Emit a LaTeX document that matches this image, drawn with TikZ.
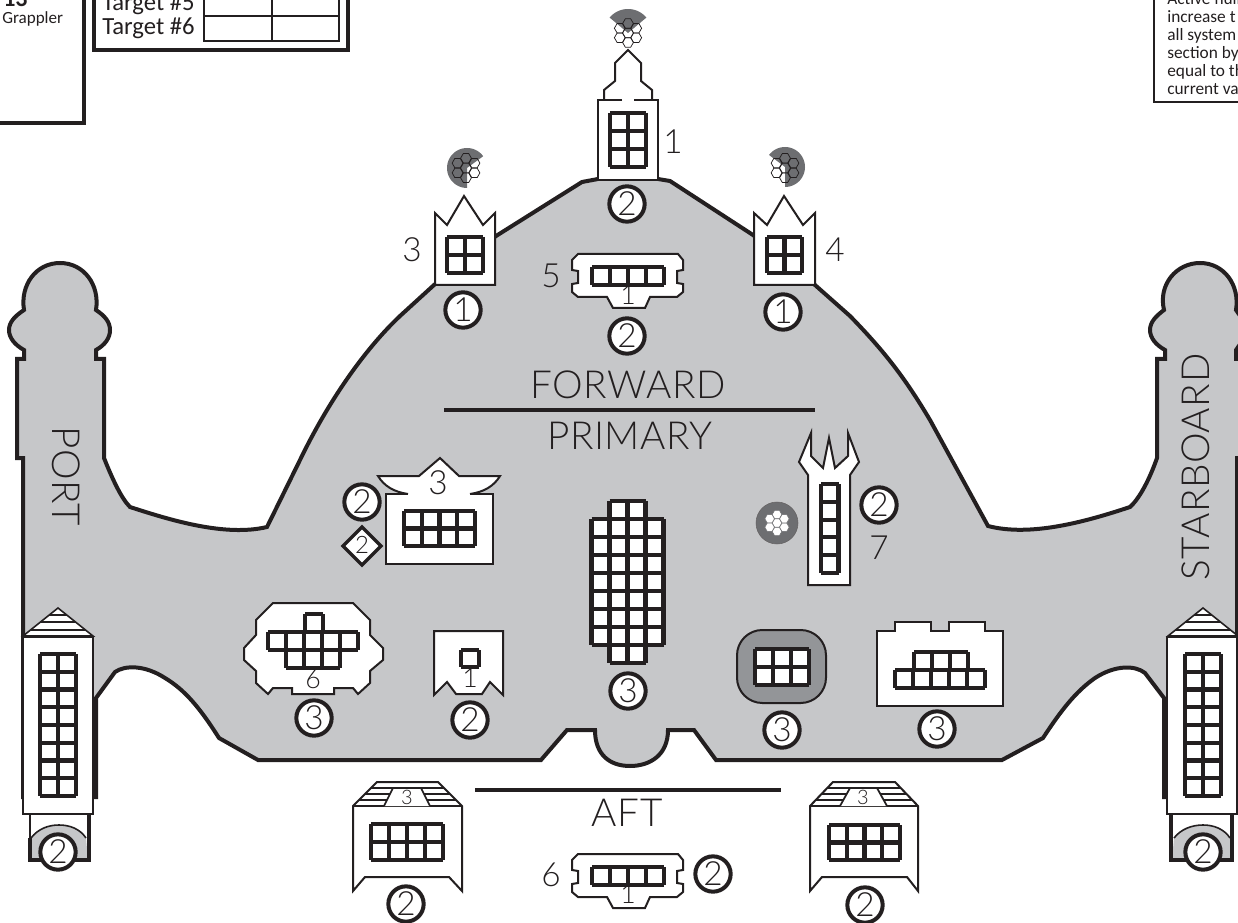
\documentclass[tikz,border=0pt]{standalone}
\usepackage{fontspec}
\setmainfont{Lato Light}
\newfontfamily\smallf{Carlito}
\newfontfamily\wordf[LetterSpace=1.6]{Lato Light}
\definecolor{ink}{HTML}{231F20}
\definecolor{hullgray}{HTML}{C6C7C9}
\definecolor{midgray}{HTML}{939598}
\definecolor{darkgray}{HTML}{6D6E71}
\tikzset{
 hullline/.style={draw=ink,line width=3pt,fill=hullgray,line join=miter},
 box/.style={draw=ink,line width=1.5pt,fill=white,line join=miter},
 gl/.style={draw=ink,line width=3.1pt,line cap=square},
 rule/.style={draw=ink,line width=3pt},
 lab/.style={inner sep=0pt,text=ink,font=\fontsize{25}{25}\selectfont},
 word/.style={inner sep=0pt,text=ink,font=\wordf\fontsize{29}{29}\selectfont},
 smalllab/.style={inner sep=0pt,text=ink,font=\fontsize{14}{14}\selectfont},
 circ/.style={circle,draw=ink,fill=white,line width=3pt,minimum size=26.5pt,inner sep=0pt,text=ink,font=\fontsize{25}{25}\selectfont},
 hexline/.style={draw=ink,line width=.55pt},
 hexwhite/.style={draw=darkgray,fill=white,line width=.4pt},
 toptext/.style={inner sep=0pt,anchor=base west,text=ink},
}
\newcommand\griddef[6]{%
 \fill[white] (#1,#2) rectangle (#3,#4);
 \foreach \i in {0,...,#5} \draw[gl] ({#1+(#3-#1)*\i/#5},#2) -- ({#1+(#3-#1)*\i/#5},#4);
 \foreach \j in {0,...,#6} \draw[gl] (#1,{#2+(#4-#2)*\j/#6}) -- (#3,{#2+(#4-#2)*\j/#6});
}
\newcommand\hexcell[4]{%
 \draw[#4] ({#1+#3},#2) -- ({#1+.5*#3},{#2+.866*#3}) -- ({#1-.5*#3},{#2+.866*#3}) -- ({#1-#3},#2) -- ({#1-.5*#3},{#2-.866*#3}) -- ({#1+.5*#3},{#2-.866*#3}) -- cycle;
}
\newcommand\hexflower[5]{%
 \hexcell{#1}{#2}{#4}{#5}
 \foreach \a in {90,30,-30,-90,-150,150}{
  \pgfmathsetmacro\hx{#1+#3*cos(\a)}
  \pgfmathsetmacro\hy{#2+#3*sin(\a)}
  \hexcell{\hx}{\hy}{#4}{#5}
 }
}
\newcommand\sector[5]{%
 \fill[fill=darkgray] (#1,#2) -- plot[domain=#4:#5,samples=40] ({#1+#3*cos(\x)},{#2-#3*sin(\x)}) -- cycle;
}
\begin{document}
\begin{tikzpicture}[x=.75pt,y=-.75pt]
\useasboundingbox (0,0) rectangle (1238,923);
% top left box
\draw[draw=ink,line width=2.3pt] (-10,123) -- (84,123) -- (84,-10);
\node[toptext,font=\smallf\bfseries\fontsize{18}{18}\selectfont] (grapnum) at (3,7) {13};
\node[toptext,font=\smallf\fontsize{12.8}{12.8}\selectfont] (grap) at (2,24) {Grappler};
% target table
\draw[draw=ink,line width=2.3pt] (94,-10) -- (94,50) -- (348,50) -- (348,-10);
\draw[draw=ink,line width=1.9pt] (204,-10) -- (204,41) -- (339,41) -- (339,-10);
\draw[draw=ink,line width=1.9pt] (272,-10) -- (272,41);
\draw[draw=ink,line width=1.9pt] (204,16) -- (339,16);
\node[toptext,font=\smallf\fontsize{18.5}{18.5}\selectfont] (t5) at (102,11) {Target \#5};
\node[toptext,font=\smallf\fontsize{18.5}{18.5}\selectfont] (t6) at (102,35) {Target \#6};
% top right box
\draw[draw=ink,line width=1.8pt] (1154,-10) -- (1154,102) -- (1250,102);
\foreach \nm/\yy/\tx in {r1/5/Active hull,r2/23/increase t,r3/41/all system,r4/59/section by,r5/77/equal to th,r6/95/current va}
 \node[toptext,font=\smallf\fontsize{13}{13}\selectfont] (\nm) at (1167,\yy) {\tx};
% hull
\path[hullline] (23,797) -- (23,458) -- (17,458) -- (17,359) -- (24,359) -- (24,350)
 .. controls (15,345) and (9,338) .. (9,330) .. controls (9,322) and (15,316) .. (24,310)
 .. controls (20,285) and (36,263) .. (60,263) .. controls (84,263) and (100,285) .. (96,310)
 .. controls (105,316) and (110,322) .. (110,330) .. controls (110,338) and (105,345) .. (96,350)
 -- (96,359) -- (104,359) -- (104,458) .. controls (112,478) and (121,498) .. (130,507)
 .. controls (170,520) and (225,537) .. (267,527) -- (300,460)
 .. controls (328,402) and (364,350) .. (400,316) -- (434,285) -- (496,236) -- (582,182) -- (598,179)
 -- (658,179) -- (670,181) -- (753,235) -- (815,285) -- (850,316)
 .. controls (885,352) and (905,378) .. (930,420) -- (988,526)
 .. controls (1030,537) and (1085,522) .. (1130,507) .. controls (1140,498) and (1150,478) .. (1157,458)
 -- (1157,359) -- (1165,359) -- (1165,350)
 .. controls (1156,345) and (1150,338) .. (1150,330) .. controls (1150,322) and (1156,316) .. (1164,310)
 .. controls (1158,285) and (1176,263) .. (1200,263) .. controls (1224,263) and (1240,285) .. (1236,310)
 -- (1250,330) -- (1236,350) -- (1236,359) -- (1250,359) -- (1250,458) -- (1237,458) -- (1237,797) -- (1164,797) -- (1164,698)
 -- (1145,673) .. controls (1135,665) and (1115,665) .. (1095,678) .. controls (1075,692) and (1060,712) .. (1043,738)
 -- (1002,760) -- (716,760) -- (694,730) -- (668,730)
 .. controls (668,755) and (650,766) .. (630,766) .. controls (610,766) and (595,755) .. (595,730)
 -- (567,730) -- (541,760) -- (258,760) -- (219,738)
 .. controls (200,708) and (185,690) .. (165,678) .. controls (145,665) and (125,665) .. (115,672)
 -- (96,698) -- (96,797) -- cycle;
% section labels
\node[word] (forward) at (628,385) {FORWARD};
\draw[rule] (444,410) -- (815,410);
\node[word] (primary) at (630,436) {PRIMARY};
\node[word,rotate=-90] (port) at (66,476) {PORT};
\node[word,rotate=90] (starboard) at (1196,467) {STARBOARD};
\draw[rule] (475,790) -- (781,790);
\node[word] (aft) at (627,813) {AFT};
% tower 1
\sector{628}{33}{24}{40}{140}
\hexflower{628}{33}{9.5}{5.4}{hexline}
\draw[box] (604,100) -- (604,90) -- (615,81) -- (615,63) -- (628,50) -- (641,63) -- (641,81) -- (652,90) -- (652,100);
\path[box,draw=none] (598,100) rectangle (658,180);
\draw[box] (622,100) -- (598,100) -- (598,180) -- (658,180) -- (658,100) -- (634,100);
\griddef{610}{113}{646}{167}{2}{3}
\node[lab] (n1) at (673,142) {1};
\node[circ] (c1) at (627,204) {2};
% tower 3
\sector{467}{168}{20}{36}{270}
\hexflower{466}{168}{9.8}{5.4}{hexline}
\draw[box] (435,213) -- (447,225) -- (464,196) -- (483,225) -- (495,213) -- (495,285) -- (435,285) -- cycle;
\griddef{447}{237}{483}{273}{2}{2}
\node[lab] (n3) at (412,250) {3};
\node[circ] (c3) at (463,310) {1};
% tower 4
\sector{785}{167}{20}{-90}{143}
\hexflower{785}{168}{9.8}{5.4}{hexline}
\draw[box] (754,213) -- (767,225) -- (784,196) -- (803,225) -- (815,213) -- (815,285) -- (754,285) -- cycle;
\griddef{767}{237}{802}{273}{2}{2}
\node[lab] (n4) at (835,250) {4};
\node[circ] (c4) at (783,312) {1};
% item 5
\draw[box] (578,254) -- (678,254) -- (683,260) -- (683,270) -- (677,271) -- (677,283) -- (683,284) -- (683,292) -- (677,297) -- (650,297) -- (645,308) -- (613,308) -- (607,297) -- (578,297) -- (572,292) -- (572,284) -- (578,283) -- (578,271) -- (572,270) -- (572,260) -- cycle;
\griddef{592}{267}{664}{285}{4}{1}
\node[smalllab,font=\fontsize{20}{20}\selectfont] (i5) at (628,295) {1};
\node[lab] (n5) at (551,276) {5};
\node[circ] (c5) at (627,336) {2};
% weapon 3 left
\fill[white] (378,476) -- (419,476) -- (440,458) -- (459,476) -- (500,476) .. controls (494,486) and (484,492) .. (470,494) -- (408,494) .. controls (394,492) and (384,486) .. (378,476) -- cycle;
\draw[draw=ink,line width=1.5pt,line join=miter] (408,494) .. controls (394,492) and (384,486) .. (378,476) -- (419,476) -- (440,458) -- (459,476) -- (500,476) .. controls (494,486) and (484,492) .. (470,494);
\path[fill=white] (386,494) rectangle (493,564);
\draw[box,fill=none] (408,494) -- (386,494) -- (386,564) -- (493,564) -- (493,494) -- (470,494);
\griddef{404}{511}{475}{546}{4}{2}
\node[lab] (n3b) at (438,483) {3};
\node[circ] (c3b) at (362,502) {2};
\path[draw=ink,fill=white,line width=2.6pt,line join=miter] (362,527) -- (381,546) -- (362,565) -- (343,546) -- cycle;
\node[smalllab,font=\fontsize{18}{18}\selectfont] (d2) at (362,545) {2};
% primary centre
\griddef{609.5}{501}{645.5}{519}{2}{1}
\griddef{591.5}{519}{663.5}{645}{4}{7}
\griddef{609.5}{645}{645.5}{663}{2}{1}
\node[circ] (c6) at (628,691) {3};
% item 7
\draw[box] (808,585) -- (808,475) -- (799,462) -- (811,433) -- (811,456) -- (823,468) -- (829,438) -- (835,468) -- (848,456) -- (848,433) -- (859,462) -- (850,475) -- (850,585) -- cycle;
\griddef{821}{484}{838.5}{573}{1}{5}
\node[circ] (c7) at (879,505) {2};
\node[lab] (n7) at (879,548) {7};
\fill[fill=darkgray] (777,523) circle[radius=21];
\draw[draw=ink!70,line width=.4pt] (777,523) circle[radius=21];
\hexflower{777}{523}{8.5}{4.8}{hexwhite}
% item 6
\draw[box] (273,603) -- (353,603) -- (370,620) -- (370,635) -- (383,648) -- (383,660) -- (370,671) -- (370,683) -- (358,694) -- (353,688) -- (334,688) -- (334,694) -- (292,694) -- (292,688) -- (273,688) -- (268,694) -- (256,683) -- (256,671) -- (244,660) -- (244,648) -- (256,635) -- (256,620) -- cycle;
\griddef{305}{614}{323}{632}{1}{1}
\griddef{268}{632}{358}{650}{5}{1}
\griddef{286}{650}{340}{668}{3}{1}
\node[smalllab,font=\fontsize{20}{20}\selectfont] (i6) at (313,679) {6};
\node[circ] (c8) at (314,718) {3};
% item 1 pentagon
\draw[box] (434,631) -- (503,631) -- (503,695) -- (490,682) -- (482,694) -- (456,694) -- (447,682) -- (434,695) -- cycle;
\griddef{461}{650}{479}{667}{1}{1}
\node[smalllab,font=\fontsize{20}{20}\selectfont] (i1) at (470,678) {1};
\node[circ] (c9) at (470,720) {2};
% dark rounded
\draw[draw=ink,line width=1.5pt,fill=midgray,rounded corners=19pt] (737,630) rectangle (826,703);
\griddef{755}{649}{809}{685}{3}{2}
\node[circ] (c10) at (782,730) {3};
% right block
\draw[box] (877,631) -- (895,631) -- (895,622) -- (931,622) -- (931,631) -- (949,631) -- (949,622) -- (985,622) -- (985,631) -- (1003,631) -- (1003,706) -- (877,706) -- cycle;
\griddef{914}{652}{968}{670}{3}{1}
\griddef{895}{670}{985}{688}{5}{1}
\node[circ] (c11) at (937,729) {3};
% aft left
\draw[box] (353,806) -- (377,782) -- (438,782) -- (462,806) -- (462,891) -- (449,877) -- (365,877) -- (353,891) -- cycle;
\draw[draw=ink,line width=1.3pt] (353,806) -- (462,806) (371,788) -- (444,788) (365,794) -- (450,794) (359,800) -- (456,800);
\draw[draw=ink,line width=1.3pt,fill=white] (384,806) -- (393,788) -- (421,788) -- (430,806);
\griddef{371}{824}{443}{860}{4}{2}
\node[smalllab,font=\fontsize{15}{15}\selectfont] (a3) at (407,797) {3};
\node[circ] (c12) at (406,904) {2};
% aft right
\draw[box] (810,806) -- (833,782) -- (895,782) -- (918,806) -- (918,891) -- (907,877) -- (822,877) -- (810,891) -- cycle;
\draw[draw=ink,line width=1.3pt] (810,806) -- (918,806) (827,788) -- (901,788) (821,794) -- (907,794) (815,800) -- (913,800);
\draw[draw=ink,line width=1.3pt,fill=white] (840,806) -- (850,788) -- (877,788) -- (887,806);
\griddef{829}{825}{900}{860}{4}{2}
\node[smalllab,font=\fontsize{15}{15}\selectfont] (b3) at (863,797) {3};
\node[circ] (c13) at (865,905) {2};
% aft centre
\draw[box] (578,854) -- (678,854) -- (683,860) -- (683,870) -- (677,871) -- (677,883) -- (683,884) -- (683,892) -- (677,897) -- (650,897) -- (645,908) -- (613,908) -- (607,897) -- (578,897) -- (572,892) -- (572,884) -- (578,883) -- (578,871) -- (572,870) -- (572,860) -- cycle;
\griddef{592}{867}{664}{885}{4}{1}
\node[smalllab,font=\fontsize{20}{20}\selectfont] (i6b) at (628,894) {1};
\node[lab] (n6) at (551,875) {6};
\node[circ] (c14) at (713,874) {2};
% port pod
\draw[draw=ink,line width=1.2pt,fill=white] (30,814) rectangle (89,860);
\fill[fill=hullgray] (31,838) .. controls (38,829) and (48,825) .. (59,825) .. controls (70,825) and (80,829) .. (86,838) -- (88,860) -- (31,860) -- cycle;
\draw[draw=ink,line width=1.2pt] (31,838) .. controls (38,829) and (48,825) .. (59,825) .. controls (70,825) and (80,829) .. (86,838);
\draw[draw=ink,line width=2.8pt] (30,838) -- (30,860) -- (89,860) -- (89,814);
\draw[draw=ink,line width=1.2pt,fill=white] (23,636) -- (58,608) -- (93,636) -- cycle;
\draw[draw=ink,line width=1.3pt] (49.2,615) -- (66.8,615) (40.5,622) -- (75.5,622) (30.5,630) -- (85.5,630);
\draw[box] (23,637) rectangle (93,814);
\griddef{40}{654}{76}{796}{2}{8}
\node[circ] (c15) at (58,852) {2};
% starboard pod
\draw[draw=ink,line width=1.2pt,fill=white] (1171,814) rectangle (1232,860);
\fill[fill=hullgray] (1174,838) .. controls (1181,829) and (1192,825) .. (1203,825) .. controls (1214,825) and (1224,829) .. (1230,838) -- (1231,860) -- (1172,860) -- cycle;
\draw[draw=ink,line width=1.2pt] (1174,838) .. controls (1181,829) and (1192,825) .. (1203,825) .. controls (1214,825) and (1224,829) .. (1230,838);
\draw[draw=ink,line width=2.8pt] (1171,814) -- (1171,860) -- (1232,860) -- (1232,814);
\draw[draw=ink,line width=1.2pt,fill=white] (1168,636) -- (1203,608) -- (1238,636) -- cycle;
\draw[draw=ink,line width=1.3pt] (1194.2,615) -- (1211.8,615) (1185.5,622) -- (1220.5,622) (1175.5,630) -- (1230.5,630);
\draw[box] (1167,637) rectangle (1237,814);
\griddef{1185}{654}{1221}{796}{2}{8}
\node[circ] (c16) at (1203,852) {2};
\end{tikzpicture}
\end{document}
